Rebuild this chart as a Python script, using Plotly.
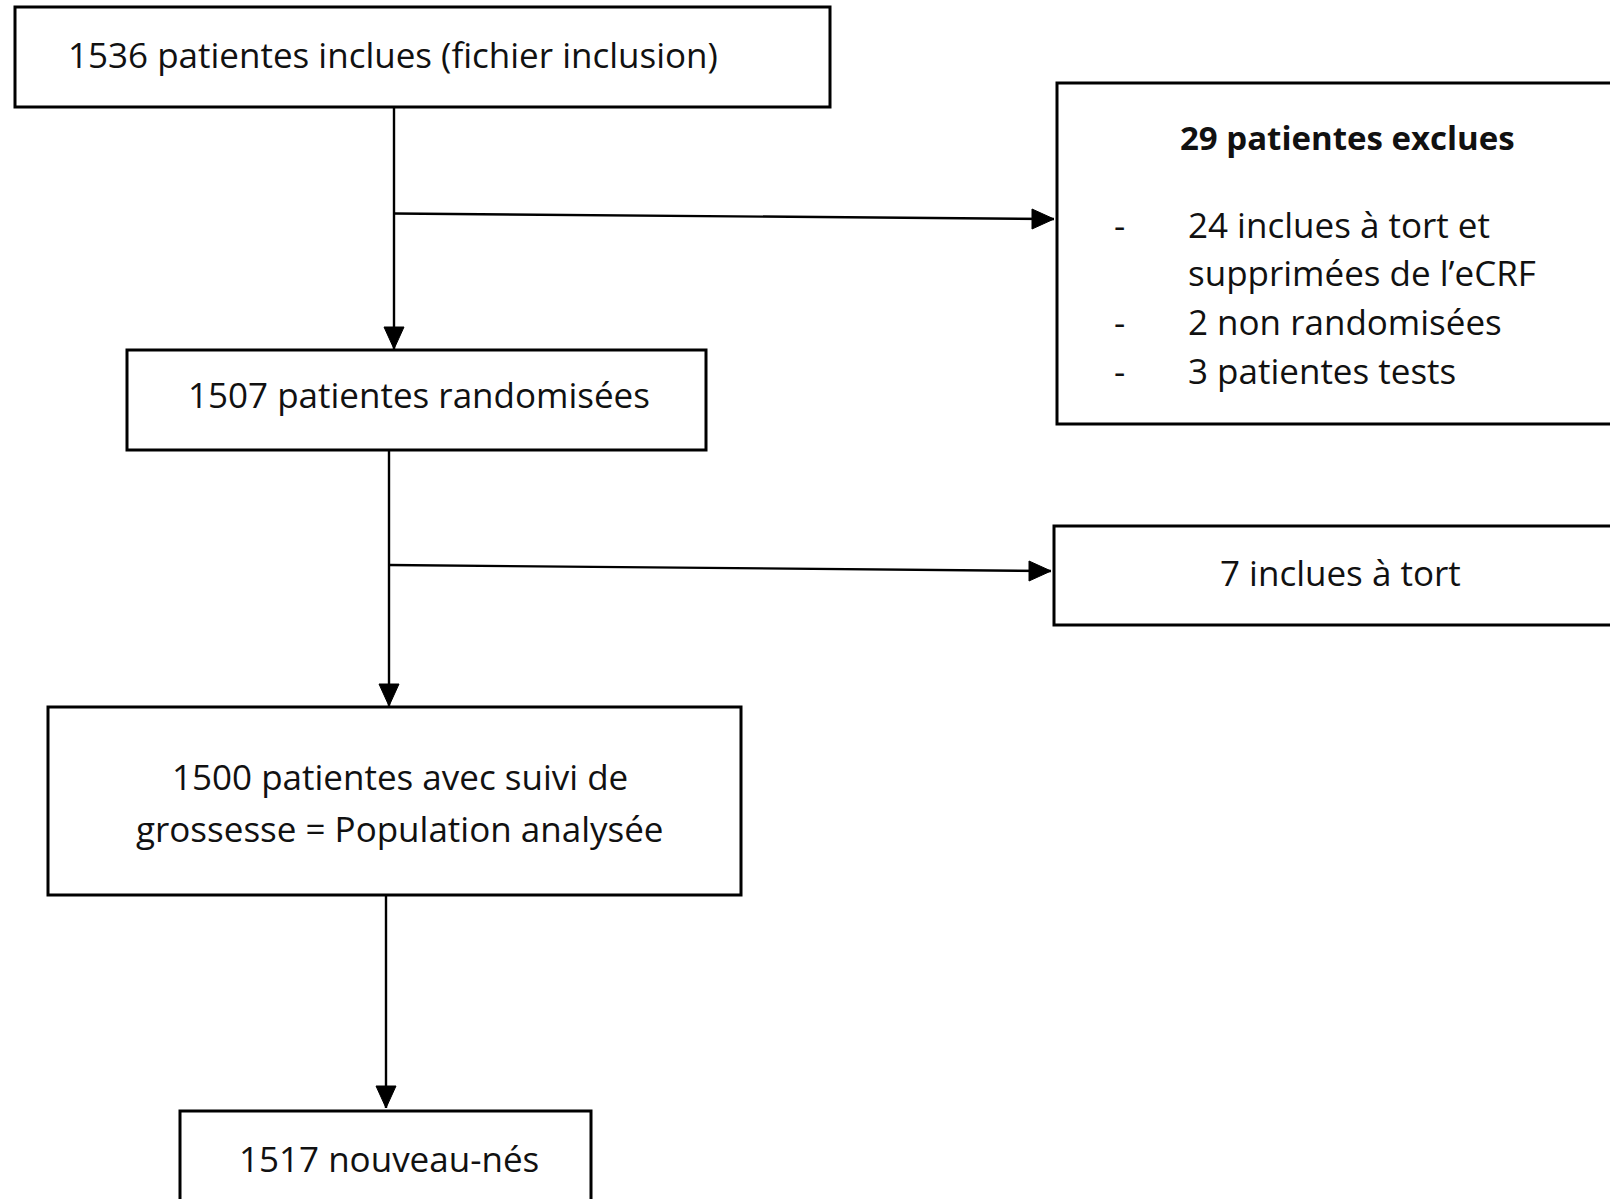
import plotly.graph_objects as go

W, H = 1610, 1199

# ---- content ----
box_labels = [
    "1536 patientes inclues (fichier inclusion)",
    "1507 patientes randomisées",
    "1500 patientes avec suivi de",
    "grossesse = Population analysée",
    "1517 nouveau-nés",
    "7 inclues à tort",
]
excl_title = "29 patientes exclues"
excl_items = ["24 inclues à tort et", "supprimées de l’eCRF", "2 non randomisées", "3 patientes tests"]
excl_dashes = ["-", "", "-", "-"]

# ---- layout (pixel coordinates) ----
boxes = [  # x0, y0, x1, y1
    (15, 7, 830, 107),
    (127, 350, 706, 450),
    (48, 707, 741, 895),
    (180, 1111, 591, 1215),
    (1054, 526, 1620, 625),
    (1057, 83, 1620, 424),
]
label_pos = [(393, 54), (419, 394), (400, 776), (400, 828), (389, 1158), (1340, 572)]

vlines = [((394, 107), (394, 349)), ((389, 450), (389, 706)), ((386, 895), (386, 1108))]
hlines = [((394, 213.5), (1054, 219)), ((389, 565), (1051, 571))]

FONT = "'Open Sans', Lato, sans-serif"
FS = 35
HEAD_L, HEAD_W = 22, 20

fig = go.Figure()

shapes = []
for (x0, y0, x1, y1) in boxes:
    shapes.append(dict(type="rect", xref="x", yref="y", x0=x0, y0=y0, x1=x1, y1=y1,
                       line=dict(color="#000", width=3), fillcolor="rgba(0,0,0,0)"))

for (a, b) in vlines + hlines:
    fig.add_trace(go.Scatter(x=[a[0], b[0]], y=[a[1], b[1]], mode="lines",
                             line=dict(color="#000", width=2.4), hoverinfo="skip", showlegend=False))
# arrowheads (derived from line end points)
for (a, b) in vlines:
    tx, ty = b
    fig.add_trace(go.Scatter(x=[tx - HEAD_W / 2, tx + HEAD_W / 2, tx, tx - HEAD_W / 2],
                             y=[ty - HEAD_L, ty - HEAD_L, ty, ty - HEAD_L], mode="lines", fill="toself",
                             fillcolor="#000", line=dict(color="#000", width=1), hoverinfo="skip", showlegend=False))
for (a, b) in hlines:
    tx, ty = b
    fig.add_trace(go.Scatter(x=[tx - HEAD_L, tx - HEAD_L, tx, tx - HEAD_L],
                             y=[ty - HEAD_W / 2, ty + HEAD_W / 2, ty, ty - HEAD_W / 2], mode="lines", fill="toself",
                             fillcolor="#000", line=dict(color="#000", width=1), hoverinfo="skip", showlegend=False))

annotations = []
for lab, (x, y) in zip(box_labels, label_pos):
    annotations.append(dict(x=x, y=y, xref="x", yref="y", text=lab, showarrow=False,
                            xanchor="center", yanchor="middle", align="center",
                            font=dict(family=FONT, size=FS, color="#111")))
# exclusion box content
annotations.append(dict(x=1347, y=137, xref="x", yref="y", text="<b>" + excl_title + "</b>", showarrow=False,
                        xanchor="center", yanchor="middle", font=dict(family=FONT, size=FS - 2, color="#111")))
item_y = [224, 272, 321, 370]
for d, t, y in zip(excl_dashes, excl_items, item_y):
    annotations.append(dict(x=1186, y=y, xref="x", yref="y", text=t, showarrow=False,
                            xanchor="left", yanchor="middle", font=dict(family=FONT, size=FS, color="#111")))
    if d:
        annotations.append(dict(x=1119, y=y, xref="x", yref="y", text=d, showarrow=False,
                                xanchor="center", yanchor="middle", font=dict(family=FONT, size=FS, color="#111")))

fig.update_layout(
    width=W, height=H, margin=dict(l=0, r=0, t=0, b=0),
    paper_bgcolor="white", plot_bgcolor="white",
    xaxis=dict(range=[0, W], visible=False, fixedrange=True),
    yaxis=dict(range=[H, 0], visible=False, fixedrange=True),
    shapes=shapes, annotations=annotations,
)
fig.write_html("out.html", post_script="document.body.style.margin='0';document.body.style.overflow='hidden';",
               config={"displayModeBar": False})
